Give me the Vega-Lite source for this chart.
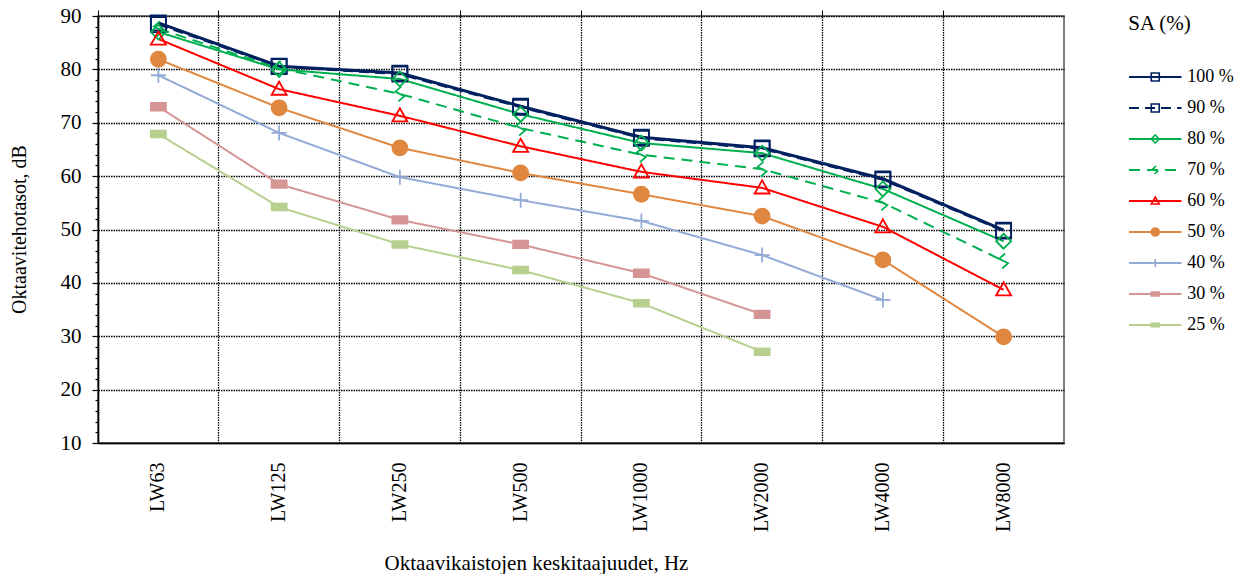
{
  "$schema": "https://vega.github.io/schema/vega-lite/v6.json",
  "autosize": {"type": "pad"},
  "padding": {"left": 8, "top": 4, "right": 0, "bottom": 0},
  "background": "white",
  "config": {
    "font": "Liberation Serif",
    "view": {"stroke": null},
    "axis": {"labelFont": "Liberation Serif", "titleFont": "Liberation Serif", "labelColor": "#000", "titleColor": "#000", "titleFontWeight": "normal"}
  },
  "datasets": {
    "levels": [
      {"series": "100 %", "band": "LW63", "v": 88.7}, {"series": "100 %", "band": "LW125", "v": 80.6}, {"series": "100 %", "band": "LW250", "v": 79.3}, {"series": "100 %", "band": "LW500", "v": 73.1}, {"series": "100 %", "band": "LW1000", "v": 67.3}, {"series": "100 %", "band": "LW2000", "v": 65.3}, {"series": "100 %", "band": "LW4000", "v": 59.5}, {"series": "100 %", "band": "LW8000", "v": 49.9},
      {"series": "90 %", "band": "LW63", "v": 88.4}, {"series": "90 %", "band": "LW125", "v": 80.5}, {"series": "90 %", "band": "LW250", "v": 79.1}, {"series": "90 %", "band": "LW500", "v": 72.9}, {"series": "90 %", "band": "LW1000", "v": 67.1}, {"series": "90 %", "band": "LW2000", "v": 65.1}, {"series": "90 %", "band": "LW4000", "v": 59.3}, {"series": "90 %", "band": "LW8000", "v": 49.7},
      {"series": "80 %", "band": "LW63", "v": 87.0}, {"series": "80 %", "band": "LW125", "v": 80.0}, {"series": "80 %", "band": "LW250", "v": 78.2}, {"series": "80 %", "band": "LW500", "v": 71.6}, {"series": "80 %", "band": "LW1000", "v": 66.2}, {"series": "80 %", "band": "LW2000", "v": 64.3}, {"series": "80 %", "band": "LW4000", "v": 57.6}, {"series": "80 %", "band": "LW8000", "v": 47.8},
      {"series": "70 %", "band": "LW63", "v": 87.6}, {"series": "70 %", "band": "LW125", "v": 80.2}, {"series": "70 %", "band": "LW250", "v": 75.4}, {"series": "70 %", "band": "LW500", "v": 69.0}, {"series": "70 %", "band": "LW1000", "v": 64.0}, {"series": "70 %", "band": "LW2000", "v": 61.3}, {"series": "70 %", "band": "LW4000", "v": 55.0}, {"series": "70 %", "band": "LW8000", "v": 44.1},
      {"series": "60 %", "band": "LW63", "v": 85.7}, {"series": "60 %", "band": "LW125", "v": 76.3}, {"series": "60 %", "band": "LW250", "v": 71.3}, {"series": "60 %", "band": "LW500", "v": 65.6}, {"series": "60 %", "band": "LW1000", "v": 60.8}, {"series": "60 %", "band": "LW2000", "v": 57.8}, {"series": "60 %", "band": "LW4000", "v": 50.5}, {"series": "60 %", "band": "LW8000", "v": 38.7},
      {"series": "50 %", "band": "LW63", "v": 81.9}, {"series": "50 %", "band": "LW125", "v": 72.8}, {"series": "50 %", "band": "LW250", "v": 65.3}, {"series": "50 %", "band": "LW500", "v": 60.6}, {"series": "50 %", "band": "LW1000", "v": 56.6}, {"series": "50 %", "band": "LW2000", "v": 52.5}, {"series": "50 %", "band": "LW4000", "v": 44.3}, {"series": "50 %", "band": "LW8000", "v": 29.9},
      {"series": "40 %", "band": "LW63", "v": 78.9}, {"series": "40 %", "band": "LW125", "v": 68.1}, {"series": "40 %", "band": "LW250", "v": 59.8}, {"series": "40 %", "band": "LW500", "v": 55.5}, {"series": "40 %", "band": "LW1000", "v": 51.6}, {"series": "40 %", "band": "LW2000", "v": 45.2}, {"series": "40 %", "band": "LW4000", "v": 36.8},
      {"series": "30 %", "band": "LW63", "v": 73.0}, {"series": "30 %", "band": "LW125", "v": 58.5}, {"series": "30 %", "band": "LW250", "v": 51.8}, {"series": "30 %", "band": "LW500", "v": 47.2}, {"series": "30 %", "band": "LW1000", "v": 41.8}, {"series": "30 %", "band": "LW2000", "v": 34.1},
      {"series": "25 %", "band": "LW63", "v": 67.9}, {"series": "25 %", "band": "LW125", "v": 54.2}, {"series": "25 %", "band": "LW250", "v": 47.2}, {"series": "25 %", "band": "LW500", "v": 42.4}, {"series": "25 %", "band": "LW1000", "v": 36.2}, {"series": "25 %", "band": "LW2000", "v": 27.1}
    ]
  },
  "bounds": "flush",
  "spacing": 20,
  "resolve": {"scale": {"x": "independent", "y": "independent", "size": "independent"}},
  "hconcat": [
    {
      "width": 966,
      "height": 427,
      "view": {"stroke": "#555", "strokeWidth": 1.5},
      "data": {"name": "levels"},
      "layer": [
        {
          "transform": [{"filter": "datum.series !== '100 %'"}],
          "mark": {"type": "line", "strokeWidth": 2},
          "encoding": {
            "x": {"field": "band", "type": "nominal", "sort": ["LW63", "LW125", "LW250", "LW500", "LW1000", "LW2000", "LW4000", "LW8000"], "scale": {"type": "band", "paddingInner": 0, "paddingOuter": 0},
              "axis": {"title": "Oktaavikaistojen keskitaajuudet, Hz", "labelAngle": -90, "labelAlign": "right", "labelBaseline": "middle", "labelFontSize": 20, "labelPadding": 19, "ticks": false, "tickSize": 0, "grid": false, "domain": true, "domainColor": "#000", "domainWidth": 1.5, "titleFontSize": 21, "titleX": 438, "titleY": 120, "titleBaseline": "middle", "titleAlign": "center"}},
            "y": {"field": "v", "type": "quantitative", "scale": {"domain": [10, 90], "nice": false, "zero": false},
              "axis": {"title": "Oktaavitehotasot, dB", "values": [10, 12, 14, 16, 18, 20, 22, 24, 26, 28, 30, 32, 34, 36, 38, 40, 42, 44, 46, 48, 50, 52, 54, 56, 58, 60, 62, 64, 66, 68, 70, 72, 74, 76, 78, 80, 82, 84, 86, 88, 90],
                "labelExpr": "datum.value % 10 === 0 ? datum.label : ''",
                "tickSize": {"condition": {"test": "datum.value % 10 === 0", "value": 6}, "value": 3},
                "gridOpacity": {"condition": {"test": "datum.value % 10 === 0", "value": 1}, "value": 0},
                "grid": true, "gridColor": "#000", "gridDash": [1.5, 1], "gridWidth": 1.3,
                "tickColor": "#000", "tickWidth": 1.2, "domainColor": "#000", "domainWidth": 1.5,
                "labelFontSize": 21, "labelPadding": 11,
                "titleFontSize": 20, "titleAngle": -90, "titleX": -79, "titleY": 213, "titleBaseline": "middle", "titleAlign": "center"}},
            "color": {"field": "series", "type": "nominal", "legend": null,
              "scale": {"domain": ["100 %", "90 %", "80 %", "70 %", "60 %", "50 %", "40 %", "30 %", "25 %"], "range": ["#002060", "#002060", "#00B050", "#00B050", "#FF0000", "#E0873F", "#93AAD6", "#D69595", "#B7CF8F"]}},
            "strokeDash": {"field": "series", "type": "nominal", "legend": null,
              "scale": {"domain": ["100 %", "90 %", "80 %", "70 %", "60 %", "50 %", "40 %", "30 %", "25 %"], "range": [[1, 0], [10, 6], [1, 0], [11, 7], [1, 0], [1, 0], [1, 0], [1, 0], [1, 0]]}}
          }
        },
        {
          "transform": [{"filter": "datum.series === '100 %'"}],
          "mark": {"type": "line", "strokeWidth": 3, "color": "#002060"},
          "encoding": {
            "x": {"field": "band", "type": "nominal", "sort": ["LW63", "LW125", "LW250", "LW500", "LW1000", "LW2000", "LW4000", "LW8000"], "axis": null},
            "y": {"field": "v", "type": "quantitative", "axis": null}
          }
        },
        {
          "mark": {"type": "point", "strokeWidth": 1.8, "opacity": 1},
          "encoding": {
            "x": {"field": "band", "type": "nominal", "sort": ["LW63", "LW125", "LW250", "LW500", "LW1000", "LW2000", "LW4000", "LW8000"],
              "axis": {"bandPosition": 0, "labels": false, "domain": false, "title": null, "ticks": true, "tickSize": 6, "tickColor": "#000", "tickWidth": 1, "grid": true, "gridColor": "#000", "gridDash": [1.5, 1], "gridWidth": 1.3, "gridOpacity": 1}},
            "y": {"field": "v", "type": "quantitative", "axis": null},
            "stroke": {"field": "series", "type": "nominal", "legend": null,
              "scale": {"domain": ["100 %", "90 %", "80 %", "70 %", "60 %", "50 %", "40 %", "30 %", "25 %"], "range": ["#002060", "#002060", "#00B050", "#00B050", "#FF0000", "#E0873F", "#93AAD6", "#D69595", "#B7CF8F"]}},
            "fill": {"field": "series", "type": "nominal", "legend": null,
              "scale": {"domain": ["100 %", "90 %", "80 %", "70 %", "60 %", "50 %", "40 %", "30 %", "25 %"], "range": ["transparent", "transparent", "transparent", "transparent", "transparent", "#E0873F", "transparent", "#D69595", "#B7CF8F"]}},
            "shape": {"field": "series", "type": "nominal", "legend": null,
              "scale": {"domain": ["100 %", "90 %", "80 %", "70 %", "60 %", "50 %", "40 %", "30 %", "25 %"], "range": ["M-1,-1H1V1H-1Z", "M-1,-1H1V1H-1Z", "M0,-1L1,0L0,1L-1,0Z", "M0.2,-1L-0.6,-0.3L0.6,0.3L-0.2,1", "M0,-1L1,0.75L-1,0.75Z", "circle", "M-1,0H1M0,-1V1", "M-1,-0.5H1V0.5H-1Z", "M-1,-0.45H1V0.45H-1Z"]}},
            "size": {"field": "series", "type": "nominal", "legend": null,
              "scale": {"domain": ["100 %", "90 %", "80 %", "70 %", "60 %", "50 %", "40 %", "30 %", "25 %"], "range": [225, 225, 196, 256, 300, 180, 144, 16, 36]}}
          }
        }
      ],
      "resolve": {"axis": {"x": "independent", "y": "independent"}}
    },
    {
      "width": 150,
      "height": 427,
      "data": {"name": "levels"},
      "transform": [{"filter": "datum.band === 'LW63'"}],
      "layer": [
        {
          "mark": {"type": "rule", "strokeWidth": 2},
          "encoding": {
            "x": {"datum": 4.8, "type": "quantitative", "scale": {"domain": [0, 15]},
              "axis": {"orient": "top", "title": "SA (%)", "labels": false, "ticks": false, "domain": false, "grid": false, "titleX": 75, "titleY": 7, "titleBaseline": "middle", "titleAlign": "center", "titleFontSize": 21, "titleAngle": 0}},
            "x2": {"datum": 10.4},
            "y": {"field": "series", "type": "nominal", "sort": ["100 %", "90 %", "80 %", "70 %", "60 %", "50 %", "40 %", "30 %", "25 %"], "axis": null, "scale": {"type": "point", "range": [61, 309], "padding": 0}},
            "color": {"field": "series", "type": "nominal", "legend": null,
              "scale": {"domain": ["100 %", "90 %", "80 %", "70 %", "60 %", "50 %", "40 %", "30 %", "25 %"], "range": ["#002060", "#002060", "#00B050", "#00B050", "#FF0000", "#E0873F", "#93AAD6", "#D69595", "#B7CF8F"]}},
            "strokeDash": {"field": "series", "type": "nominal", "legend": null,
              "scale": {"domain": ["100 %", "90 %", "80 %", "70 %", "60 %", "50 %", "40 %", "30 %", "25 %"], "range": [[1, 0], [10, 8], [1, 0], [10, 8], [1, 0], [1, 0], [1, 0], [1, 0], [1, 0]]}}
          }
        },
        {
          "mark": {"type": "point", "strokeWidth": 1.6, "opacity": 1},
          "encoding": {
            "x": {"datum": 7.6, "type": "quantitative", "axis": null},
            "y": {"field": "series", "type": "nominal", "sort": ["100 %", "90 %", "80 %", "70 %", "60 %", "50 %", "40 %", "30 %", "25 %"], "axis": null},
            "stroke": {"field": "series", "type": "nominal", "legend": null,
              "scale": {"domain": ["100 %", "90 %", "80 %", "70 %", "60 %", "50 %", "40 %", "30 %", "25 %"], "range": ["#002060", "#002060", "#00B050", "#00B050", "#FF0000", "#E0873F", "#93AAD6", "#D69595", "#B7CF8F"]}},
            "fill": {"field": "series", "type": "nominal", "legend": null,
              "scale": {"domain": ["100 %", "90 %", "80 %", "70 %", "60 %", "50 %", "40 %", "30 %", "25 %"], "range": ["white", "white", "white", "white", "white", "#E0873F", "white", "#D69595", "#B7CF8F"]}},
            "shape": {"field": "series", "type": "nominal", "legend": null,
              "scale": {"domain": ["100 %", "90 %", "80 %", "70 %", "60 %", "50 %", "40 %", "30 %", "25 %"], "range": ["M-1,-1H1V1H-1Z", "M-1,-1H1V1H-1Z", "M0,-1L1,0L0,1L-1,0Z", "M0.2,-1L-0.6,-0.3L0.6,0.3L-0.2,1", "M0,-1L1,0.75L-1,0.75Z", "circle", "M-1,0H1M0,-1V1", "M-1,-0.5H1V0.5H-1Z", "M-1,-0.45H1V0.45H-1Z"]}},
            "size": {"field": "series", "type": "nominal", "legend": null,
              "scale": {"domain": ["100 %", "90 %", "80 %", "70 %", "60 %", "50 %", "40 %", "30 %", "25 %"], "range": [64, 64, 64, 81, 81, 110, 64, 16, 30]}}
          }
        },
        {
          "mark": {"type": "text", "align": "left", "baseline": "middle", "fontSize": 18, "font": "Liberation Serif", "color": "#000"},
          "encoding": {
            "x": {"datum": 11.0, "type": "quantitative", "axis": null},
            "y": {"field": "series", "type": "nominal", "sort": ["100 %", "90 %", "80 %", "70 %", "60 %", "50 %", "40 %", "30 %", "25 %"], "axis": null},
            "text": {"field": "series", "type": "nominal"}
          }
        }
      ],
      "resolve": {"axis": {"x": "independent"}}
    }
  ]
}
